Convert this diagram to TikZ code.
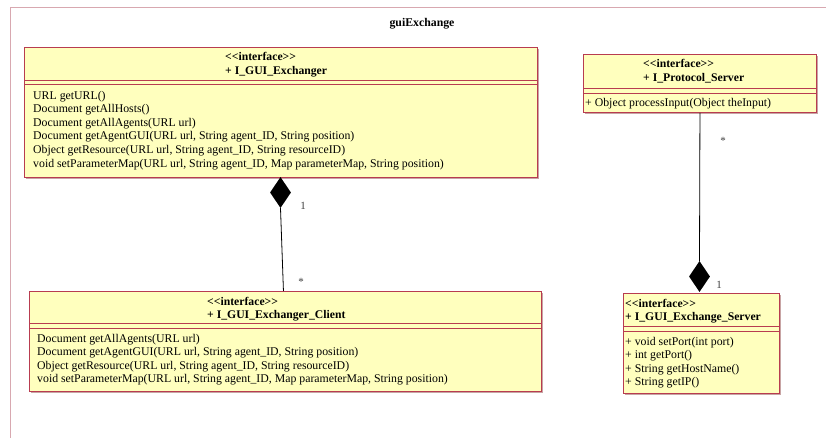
\documentclass[tikz,border=0pt]{standalone}
\usepackage{fontspec}
\setmainfont{Liberation Serif}
\usetikzlibrary{shapes.geometric}
\definecolor{classfill}{HTML}{FFFFBE}
\definecolor{classline}{HTML}{B83C50}
\definecolor{classshade}{HTML}{C8A4A4}
\definecolor{framecol}{HTML}{D8A8B0}
\definecolor{labelcol}{HTML}{404040}
\newcommand{\stereo}{<{}<interface>{}>}
\tikzset{
  classbox/.style={draw=classline, fill=classfill, line width=0.9pt, rectangle, inner sep=0pt, anchor=north west},
  shadowbox/.style={fill=classshade, rectangle, inner sep=0pt, anchor=north west},
  sep/.style={draw=classline, line width=0.9pt},
  hdr/.style={anchor=base west, inner sep=0pt, font=\fontsize{11.7}{13}\selectfont\bfseries},
  op/.style={anchor=base west, inner sep=0pt, font=\fontsize{11.8}{13}\selectfont},
  mult/.style={anchor=base, inner sep=0pt, text=labelcol, font=\fontsize{11}{12}\selectfont},
  comp/.style={diamond, fill=black, inner sep=0pt, minimum width=21pt, minimum height=31pt},
  link/.style={draw=black, line width=0.8pt},
}
\begin{document}
\begin{tikzpicture}[x=1pt, y=-1pt]
\useasboundingbox (0,0) rectangle (826,437);
% package frame and title
\draw[framecol, line width=1pt] (10,7) rectangle (840,450);
\node[anchor=base, inner sep=0pt, font=\fontsize{11.8}{13}\selectfont\bfseries] (title) at (422,26) {guiExchange};

% ---- I_GUI_Exchanger ----
\node[shadowbox, minimum width=513pt, minimum height=130pt] at (25.5,48.5) {};
\node[classbox, minimum width=513pt, minimum height=130pt] (c1) at (24,47) {};
\draw[sep] (24,80) -- (537,80);
\draw[sep] (24,84) -- (537,84);
\node[hdr] (c1s) at (225,60) {\stereo};
\node[hdr] (c1n) at (225,74) {+ I\_GUI\_Exchanger};
\node[op] (c1a) at (33,99) {URL getURL()};
\node[op] (c1b) at (33,112.6) {Document getAllHosts()};
\node[op] (c1c) at (33,126.2) {Document getAllAgents(URL url)};
\node[op] (c1d) at (33,139.8) {Document getAgentGUI(URL url, String agent\_ID, String position)};
\node[op] (c1e) at (33,153.4) {Object getResource(URL url, String agent\_ID, String resourceID)};
\node[op] (c1f) at (33,167) {void setParameterMap(URL url, String agent\_ID, Map parameterMap, String position)};

% ---- I_Protocol_Server ----
\node[shadowbox, minimum width=233pt, minimum height=58pt] at (584.5,55.5) {};
\node[classbox, minimum width=233pt, minimum height=58pt] (c2) at (583,54) {};
\draw[sep] (583,88) -- (816,88);
\draw[sep] (583,93) -- (816,93);
\node[hdr] (c2s) at (643,67) {\stereo};
\node[hdr] (c2n) at (643,81) {+ I\_Protocol\_Server};
\node[op] (c2a) at (585,106) {+ Object processInput(Object theInput)};

% ---- I_GUI_Exchanger_Client ----
\node[shadowbox, minimum width=512pt, minimum height=100pt] at (30.5,292.5) {};
\node[classbox, minimum width=512pt, minimum height=100pt] (c3) at (29,291) {};
\draw[sep] (29,323) -- (541,323);
\draw[sep] (29,328) -- (541,328);
\node[hdr] (c3s) at (207,305) {\stereo};
\node[hdr] (c3n) at (207,318) {+ I\_GUI\_Exchanger\_Client};
\node[op] (c3a) at (37,342) {Document getAllAgents(URL url)};
\node[op] (c3b) at (37,355.5) {Document getAgentGUI(URL url, String agent\_ID, String position)};
\node[op] (c3c) at (37,369) {Object getResource(URL url, String agent\_ID, String resourceID)};
\node[op] (c3d) at (37,382.5) {void setParameterMap(URL url, String agent\_ID, Map parameterMap, String position)};

% ---- I_GUI_Exchange_Server ----
\node[shadowbox, minimum width=156pt, minimum height=100pt] at (624.5,294.5) {};
\node[classbox, minimum width=156pt, minimum height=100pt] (c4) at (623,293) {};
\draw[sep] (623,326) -- (779,326);
\draw[sep] (623,331) -- (779,331);
\node[hdr] (c4s) at (625,307) {\stereo};
\node[hdr] (c4n) at (625,320) {+ I\_GUI\_Exchange\_Server};
\node[op] (c4a) at (625,345) {+ void setPort(int port)};
\node[op] (c4b) at (625,358.5) {+ int getPort()};
\node[op] (c4c) at (625,372) {+ String getHostName()};
\node[op] (c4d) at (625,385.5) {+ String getIP()};

% ---- composition: I_GUI_Exchanger <>-- I_GUI_Exchanger_Client ----
\node[comp] (d1) at (280.5,192.5) {};
\draw[link] (d1.south) -- ([xshift=-2pt]c3.north);
\node[mult] (m1a) at (303,209) {1};
\node[mult] (m1b) at (301,285) {*};

% ---- composition: I_GUI_Exchange_Server <>-- I_Protocol_Server ----
\node[comp] (d2) at (699.5,276.5) {};
\draw[link] (c2.south) -- (d2.north);
\node[mult] (m2a) at (719,288) {1};
\node[mult] (m2b) at (723,144) {*};
\end{tikzpicture}
\end{document}
